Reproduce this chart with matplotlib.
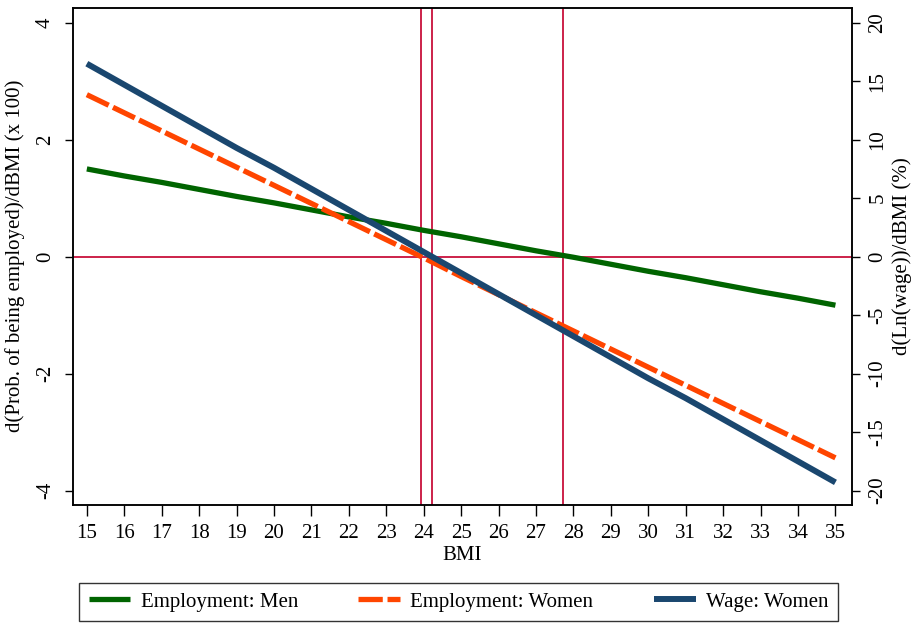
import matplotlib
matplotlib.use("Agg")
import matplotlib.pyplot as plt

# --- DATA ---
bmi = list(range(15, 36))
emp_men = [1.50, 1.38, 1.27, 1.15, 1.03, 0.92, 0.80, 0.68, 0.57, 0.45, 0.34,
           0.22, 0.10, -0.01, -0.13, -0.25, -0.36, -0.48, -0.60, -0.71, -0.83]
emp_women = [2.77, 2.46, 2.15, 1.84, 1.53, 1.22, 0.91, 0.60, 0.29, -0.02, -0.34,
             -0.65, -0.96, -1.27, -1.58, -1.89, -2.20, -2.51, -2.82, -3.13, -3.44]
wage_women = [16.5, 14.7, 12.9, 11.1, 9.3, 7.6, 5.8, 4.0, 2.2, 0.4, -1.4,
              -3.2, -5.0, -6.8, -8.6, -10.4, -12.1, -13.9, -15.7, -17.5, -19.3]
zero_points = [23.92, 24.22, 27.72]   # where each line crosses zero
left_ticks = [-4, -2, 0, 2, 4]
right_ticks = [-20, -15, -10, -5, 0, 5, 10, 15, 20]

# --- STYLE ---
plt.rcParams["font.family"] = ["Liberation Serif", "DejaVu Serif"]
plt.rcParams["font.size"] = 15
green = "#006400"
orange = "#ff4500"
navy = "#1a476f"
red = "#c8103c"

fig = plt.figure(figsize=(9.17, 6.28), dpi=100)
ax = fig.add_axes([0.0796, 0.196, 0.849, 0.792])
ax2 = ax.twinx()

# reference lines
ax.axhline(0, color=red, lw=1.3, zorder=1)
for xv in zero_points:
    ax.axvline(xv, color=red, lw=1.3, zorder=1)

l1, = ax.plot(bmi, emp_men, color=green, lw=3.8, solid_capstyle="butt",
              label="Employment: Men", zorder=3)
l2, = ax.plot(bmi, emp_women, color=orange, lw=3.8, linestyle=(0, (4.6, 0.9)),
              label="Employment: Women", zorder=3)
l3, = ax2.plot(bmi, wage_women, color=navy, lw=4.3, solid_capstyle="butt",
               label="Wage: Women", zorder=3)

ax.set_xlim(14.63, 35.43)
ax.set_ylim(-4.245, 4.26)
ax2.set_ylim(-4.245 * 5, 4.26 * 5)

ax.set_xticks(bmi)
ax.set_yticks(left_ticks)
ax.set_yticklabels([str(v) for v in left_ticks], rotation=90, va="center")
ax2.set_yticks(right_ticks)
ax2.set_yticklabels([str(v) for v in right_ticks], rotation=90, va="center")

ax.tick_params(axis="x", length=8, width=1, pad=6)
ax.tick_params(axis="y", length=6, width=1, pad=7)
ax2.tick_params(axis="y", length=6, width=1, pad=6)

ax.set_xlabel("BMI", labelpad=2)
ax.set_ylabel("d(Prob. of being employed)/dBMI (x 100)", labelpad=8)
ax2.set_ylabel("d(Ln(wage))/dBMI (%)", rotation=90, labelpad=4)

for a in (ax, ax2):
    for s in a.spines.values():
        s.set_linewidth(1.1)

ax2.set_zorder(ax.get_zorder() + 1)
ax2.patch.set_visible(False)

leg = fig.legend(handles=[l1, l2, l3], loc="center",
                 bbox_to_anchor=(0.50, 0.0415), ncol=3, frameon=True,
                 fancybox=False, edgecolor="black", handlelength=2.0,
                 handletextpad=0.5, columnspacing=2.9, borderpad=0.45,
                 fontsize=15)
leg.get_frame().set_linewidth(1.0)

fig.savefig("out.png", dpi=100)
